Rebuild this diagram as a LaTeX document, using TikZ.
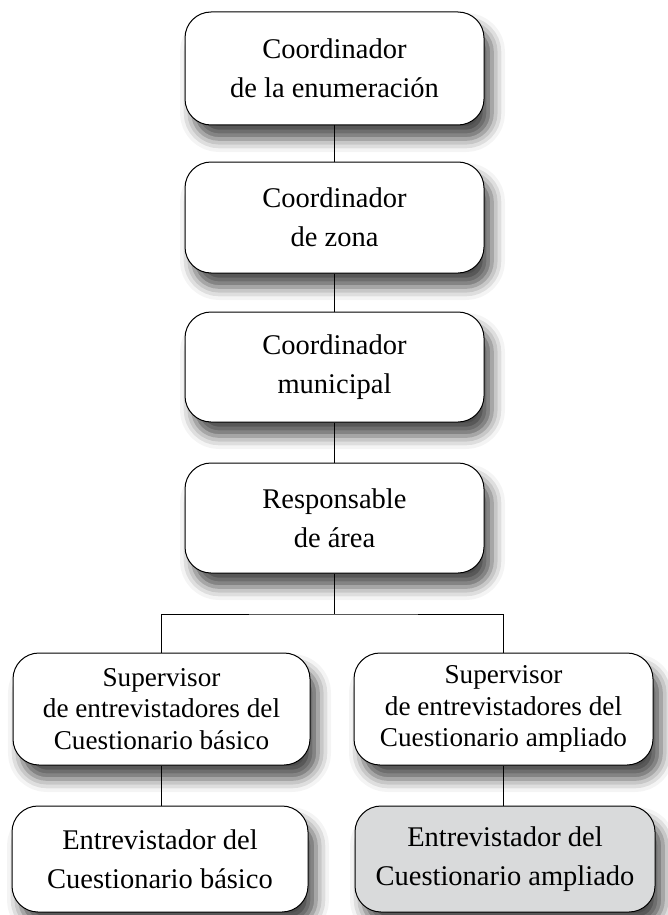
\documentclass[tikz,border=0pt]{standalone}
\usepackage{fontspec}
\setmainfont{Liberation Serif}
\usetikzlibrary{shadows.blur}
\definecolor{boxgray}{RGB}{217,218,219}
\tikzset{
  orgbox/.style={draw=black, line width=1pt, fill=white, rounded corners=26pt,
    minimum width=#1, align=center, inner sep=0pt,
    blur shadow={shadow xshift=8pt, shadow yshift=-14pt, shadow blur radius=13pt, shadow opacity=70}},
  orgbox/.default=299pt,
  twol/.style={font=\fontsize{28.5}{39}\selectfont},
  threel/.style={font=\fontsize{27.2}{31.5}\selectfont},
  conn/.style={line width=1pt, draw=black}
}
\begin{document}
\begin{tikzpicture}[x=1pt,y=1pt]
\useasboundingbox (0,0) rectangle (668,-915);
\node[orgbox, twol, minimum height=113pt] (b1) at (334.5,-68.5) {Coordinador\\de la enumeración};
\node[orgbox, twol, minimum height=111pt] (b2) at (334.5,-217.5) {Coordinador\\de zona};
\node[orgbox, twol, minimum height=110pt] (b3) at (334.5,-367) {Coordinador\\municipal};
\node[orgbox, twol, minimum height=110pt] (b4) at (334.5,-518) {Responsable\\de área};
\node[orgbox=297pt, threel, minimum height=112pt] (sl) at (161.5,-709) {Supervisor\\de entrevistadores del\\Cuestionario básico};
\node[orgbox=299pt, threel, minimum height=112pt] (sr) at (503.5,-709) {Supervisor\\de entrevistadores del\\Cuestionario ampliado};
\node[orgbox=296pt, twol, minimum height=106pt] (el) at (160,-859) {Entrevistador del\\Cuestionario básico};
\node[orgbox=300pt, twol, minimum height=106pt, fill=boxgray] (er) at (505,-859) {Entrevistador del\\Cuestionario ampliado};
\coordinate (split) at (334.5,-614);
\draw[conn] (b1.south) -- (b2.north);
\draw[conn] (b2.south) -- (b3.north);
\draw[conn] (b3.south) -- (b4.north);
\draw[conn] (b4.south) -- (split);
\draw[conn] (sl.north) |- (split) -| (sr.north);
\draw[conn] (sl.south) -- (sl.south |- el.north);
\draw[conn] (sr.south) -- (sr.south |- er.north);
\end{tikzpicture}
\end{document}
